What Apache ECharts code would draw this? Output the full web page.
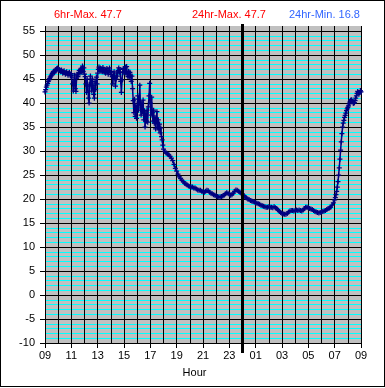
<!DOCTYPE html>
<html><head><meta charset="utf-8">
<script src="https://cdn.jsdelivr.net/npm/echarts@6/dist/echarts.min.js"></script>
<style>
html,body{margin:0;padding:0;background:#fff}
#c{width:385px;height:388px;position:absolute;left:0;top:0}
#frame{position:absolute;left:0;top:0;width:385px;height:387px;box-sizing:border-box;border:1px solid #000;pointer-events:none}
</style>
</head><body><div id="c"></div><div id="frame"></div>
<script>
// Tick labels for the x axis (hours, every 2 h starting 09:00)
const hourLabels = ['09','11','13','15','17','19','21','23','01','03','05','07','09'];
const statTexts = ['6hr-Max. 47.7', '24hr-Max. 47.7', '24hr-Min. 16.8'];
const statColors = ['#FF0000', '#FF0000', '#3366FF'];
const midnightHour = 15; // hours after 09:00

// Segment A: 09:00-18:00, sampled every 0.05 h
const segAStart = 0, segAStep = 0.05;
const tempsA = [
 42.3,42.8,43.3,43.7,44.1,44.5,44.8,45.1,45.4,45.6,45.8,46.1,46.4,46.6,46.3,46.5,46.8,47.0,47.2,47.3,47.1,
 47.0,46.7,46.8,46.5,46.9,46.6,46.2,46.4,46.7,46.3,46.0,46.3,46.5,46.1,45.8,46.2,46.4,46.0,45.7,46.1,
 45.4,44.0,42.5,44.6,45.8,43.0,42.4,45.2,46.0,45.5,46.3,46.8,46.2,47.0,46.4,47.2,47.7,46.6,47.3,46.0,
 45.5,44.0,42.2,45.0,43.5,41.0,40.0,43.8,45.6,44.2,42.5,45.0,43.6,41.8,41.0,44.5,42.8,45.4,44.0,46.2,
 47.0,47.5,46.8,47.3,46.6,47.1,46.5,47.4,46.9,46.4,47.0,46.2,46.8,47.2,46.5,46.0,46.7,47.3,46.4,45.9,
 46.6,45.5,44.0,45.8,46.5,45.2,43.5,45.0,46.2,45.6,46.8,47.3,46.4,47.0,44.5,42.2,44.8,46.5,47.2,46.3,
 46.8,47.5,46.2,47.6,46.0,45.5,46.6,45.4,46.4,45.8,44.5,45.6,43.0,40.5,38.0,40.8,37.2,39.5,36.8,39.0,
 41.5,38.5,40.2,43.7,39.6,37.5,40.0,38.2,40.6,36.5,38.4,35.0,37.8,36.2,38.5,36.0,39.2,41.5,44.1,40.0,
 37.5,41.2,38.0,36.2,38.5,35.8,37.0,34.6,36.8,38.2,35.0,36.5,34.4,35.6,33.8,34.8,33.0,32.3,31.2,30.4
];
// Segment B: 18:06-07:00, sampled every 0.1 h
const segBStart = 9.1, segBStep = 0.1;
const tempsB = [
 29.9,29.6,29.4,29.2,28.9,28.5,28.0,27.2,26.4,25.8,
 25.2,24.6,24.3,23.9,23.6,23.3,23.1,22.9,22.7,22.6,
 22.5,22.5,22.3,22.3,22.1,21.9,21.8,21.8,21.6,21.5,
 21.4,21.6,21.8,21.7,21.4,21.2,21.1,20.9,20.8,20.7,
 20.5,20.4,20.4,20.5,20.6,20.8,21.1,21.3,21.2,21.0,
 20.8,20.9,21.2,21.6,21.9,21.8,21.6,21.4,21.2,21.0,
 20.7,20.4,20.2,20.0,19.9,19.7,19.6,19.5,19.4,19.2,
 19.1,19.0,18.9,18.7,18.6,18.5,18.4,18.3,18.3,18.4,
 18.3,18.3,18.2,18.4,18.2,18.0,17.7,17.4,17.2,17.0,
 16.9,16.8,16.8,17.0,17.3,17.5,17.6,17.6,17.5,17.6,
 17.7,17.6,17.7,17.6,17.5,17.7,18.0,18.3,18.3,18.2,
 18.0,17.9,17.8,17.6,17.4,17.3,17.2,17.1,17.2,17.3,
 17.4,17.5,17.6,17.8,18.0,18.1,18.3,18.7,19.2,19.8
];
// Segment C: 07:03-09:00, sampled every 0.05 h
const segCStart = 22.05, segCStep = 0.05;
const tempsC = [
 20.3,20.9,21.6,22.5,23.6,25.0,26.5,28.3,30.2,31.9,
 33.6,35.0,35.8,36.4,37.0,37.4,37.9,38.4,38.8,39.1,
 39.4,39.8,40.2,40.5,40.7,40.6,40.3,40.0,39.9,40.1,
 40.5,41.0,41.5,42.0,42.4,42.2,41.9,42.2,42.6,42.3
];

function seg(start, step, arr) {
  return arr.map((v, i) => [+(start + i * step).toFixed(3), v]);
}
const seriesData = [].concat(seg(segAStart, segAStep, tempsA), seg(segBStart, segBStep, tempsB), seg(segCStart, segCStep, tempsC));

const FONT = 'Liberation Sans, Arial, sans-serif';
const chart = echarts.init(document.getElementById('c'), null, {renderer: 'canvas'});
const option = {
  animation: false,
  backgroundColor: 'transparent',
  title: statTexts.map((t, i) => ({
    text: t, left: [54, 192, 289][i], top: 9, padding: 0,
    textStyle: {color: statColors[i], fontSize: 11, fontWeight: 'normal', fontFamily: FONT}
  })),
  grid: [
    {left: 45, right: 24, top: 26, bottom: 45, show: true, backgroundColor: '#C0C0C0', borderWidth: 0},
    {left: 45, right: 24, top: 31, bottom: 45, show: false}
  ],
  xAxis: [
    {gridIndex: 0, type: 'value', min: 0, max: 24, interval: 2, z: 1,
     axisLine: {show: false}, axisTick: {show: false}, axisLabel: {show: false},
     splitLine: {show: true, lineStyle: {color: '#000', width: 1}},
     minorTick: {show: false, splitNumber: 2},
     minorSplitLine: {show: true, lineStyle: {color: '#000', width: 1}}},
    {gridIndex: 1, type: 'value', min: 0, max: 24, interval: 2, z: 1,
     name: 'Hour', nameLocation: 'middle', nameGap: 24,
     nameTextStyle: {color: '#000', fontSize: 11, fontFamily: FONT, padding: [0, 17, 0, 0]},
     axisLine: {show: true, onZero: false, lineStyle: {color: '#000', width: 1}},
     axisTick: {show: true, inside: false, length: 5, lineStyle: {color: '#000'}},
     axisLabel: {color: '#000', fontSize: 11, fontFamily: FONT, margin: 7,
       formatter: v => hourLabels[Math.round(v / 2)] || ''},
     splitLine: {show: true, lineStyle: {color: '#000', width: 1}},
     minorTick: {show: false, splitNumber: 2},
     minorSplitLine: {show: true, lineStyle: {color: '#000', width: 1}}}
  ],
  yAxis: [
    {gridIndex: 0, type: 'value', min: 0, max: 1, show: false},
    {gridIndex: 1, type: 'value', min: -10, max: 55, interval: 5, z: 0,
     axisLine: {show: true, lineStyle: {color: '#000', width: 1}},
     axisTick: {show: true, inside: false, length: 5, lineStyle: {color: '#000'}},
     axisLabel: {color: '#000', fontSize: 11, fontFamily: FONT, margin: 10},
     splitLine: {show: true, lineStyle: {color: '#000', width: 1}},
     minorTick: {show: false, splitNumber: 5},
     minorSplitLine: {show: true, lineStyle: {color: '#00FFFF', width: 1}}}
  ],
  series: [{
    type: 'line', xAxisIndex: 1, yAxisIndex: 1, z: 3,
    data: seriesData,
    showSymbol: true, showAllSymbol: true,
    symbol: 'path://M3,0h2v8h-2z M0,3h8v2h-8z', symbolSize: 5,
    itemStyle: {color: '#000080'},
    lineStyle: {color: '#000080', width: 1.5}
  }]
};
chart.setOption(option);
const mx = chart.convertToPixel({xAxisIndex: 1}, midnightHour);
const yTop = chart.convertToPixel({yAxisIndex: 1}, 55) - 7;
const yBot = chart.convertToPixel({yAxisIndex: 1}, -10) + 10;
chart.setOption({graphic: [{type: 'line', z: 10, shape: {x1: mx, y1: yTop, x2: mx, y2: yBot}, style: {stroke: '#000', lineWidth: 3}}]});
</script>
</body></html>
